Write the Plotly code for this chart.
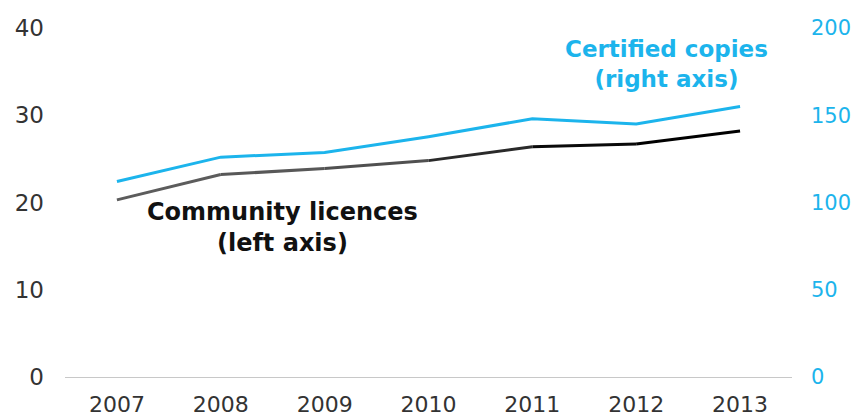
import plotly.graph_objects as go

years = ["2007", "2008", "2009", "2010", "2011", "2012", "2013"]
community_licences = [20.3, 23.2, 23.9, 24.8, 26.4, 26.7, 28.2]
certified_copies = [112, 126, 128.6, 137.7, 148, 145, 155]

cyan = "#1cb4ec"
# the black line fades from grey to black, so draw it segment by segment
seg_colors = ["#5c5c5c", "#585858", "#505050", "#2a2a2a", "#0a0a0a", "#000000"]

fig = go.Figure()

fig.add_trace(go.Scatter(
    x=years, y=certified_copies, yaxis="y2",
    mode="lines", line=dict(color=cyan, width=3),
    hoverinfo="skip"
))

for i, c in enumerate(seg_colors):
    fig.add_trace(go.Scatter(
        x=years[i:i + 2], y=community_licences[i:i + 2],
        mode="lines", line=dict(color=c, width=3),
        hoverinfo="skip"
    ))

fig.add_annotation(
    text="<b>Community licences<br>(left axis)</b>",
    xref="paper", yref="paper", x=0.2985, y=0.4286,
    xanchor="center", yanchor="middle",
    showarrow=False, font=dict(size=24, color="#111111")
)
fig.add_annotation(
    text="<b>Certified copies<br>(right axis)</b>",
    xref="paper", yref="paper", x=0.8267, y=0.897,
    xanchor="center", yanchor="middle",
    showarrow=False, font=dict(size=23, color=cyan)
)

# page body adds an 8px margin, so the figure is shifted/shrunk to compensate
fig.update_layout(
    width=852, height=411,
    margin=dict(l=57, r=68, t=20, b=42),
    paper_bgcolor="white", plot_bgcolor="white",
    showlegend=False,
    font=dict(family="DejaVu Sans", size=23, color="#333333"),
    xaxis=dict(
        type="category", range=[-0.5, 6.5], automargin=False,
        showgrid=False, showline=True, linecolor="#c8c8c8", linewidth=1,
        ticks="", tickfont=dict(size=22, color="#333333"),
        ticklabelstandoff=8
    ),
    yaxis=dict(
        range=[0, 40], dtick=10, showgrid=False, zeroline=False,
        automargin=False,
        tickfont=dict(size=23, color="#333333"), ticklabelstandoff=20
    ),
    yaxis2=dict(
        range=[0, 200], dtick=50, overlaying="y", side="right",
        showgrid=False, zeroline=False, automargin=False,
        tickfont=dict(size=21, color=cyan), ticklabelstandoff=18
    )
)

fig.write_html("out.html")
